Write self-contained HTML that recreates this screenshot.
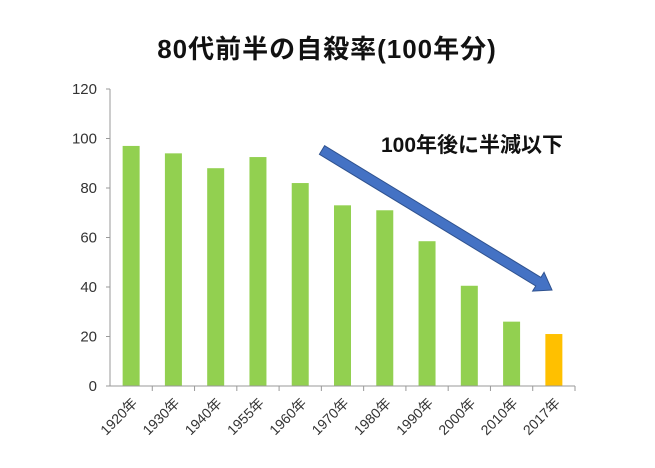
<!DOCTYPE html>
<html><head><meta charset="utf-8"><style>
body{margin:0;background:#fff;}
svg{display:block;font-family:"Liberation Sans","Noto Sans CJK JP",sans-serif;}
</style></head><body>
<svg width="655" height="468" id="c">
<text x="327" y="58" text-anchor="middle" font-size="26" font-weight="bold" fill="#111" letter-spacing="1">80代前半の自殺率(100年分)</text>
<text x="472" y="152" text-anchor="middle" font-size="21" font-weight="bold" fill="#111">100年後に半減以下</text>
</svg>
<script>
const categories=["1920年","1930年","1940年","1955年","1960年","1970年","1980年","1990年","2000年","2010年","2017年"];
const values=[97,94,88,92.5,82,73,71,58.5,40.5,26,21];
const yTicks=[0,20,40,60,80,100,120];
const svg=document.getElementById('c');const NS='http://www.w3.org/2000/svg';
const x0=110,x1=575,y0=386,yTop=89,yMax=120;
const step=(x1-x0)/categories.length;
const yS=v=>y0-(v/yMax)*(y0-yTop);
function mk(t,a){const e=document.createElementNS(NS,t);for(const k in a)e.setAttribute(k,a[k]);svg.appendChild(e);return e;}
yTicks.forEach(t=>{const e=mk('text',{x:x0-13,y:yS(t)+5,'text-anchor':'end','font-size':15,fill:'#333'});e.textContent=t;


const l=mk('line',{x1:x0-4,x2:x0,y1:yS(t),y2:yS(t),stroke:'#999'});

});
categories.forEach((c,i)=>{const cx=x0+step*(i+0.5);const v=values[i];
const r=mk('rect',{x:cx-8.5,y:yS(v),width:17,height:y0-yS(v),fill:i==categories.length-1?'#ffc000':'#92d050'});


const tk=mk('line',{x1:x0+step*(i+1),x2:x0+step*(i+1),y1:y0,y2:y0+5,stroke:'#999'});


const t=mk('text',{x:cx+7,y:y0+18,'text-anchor':'end','font-size':14,fill:'#333',transform:`rotate(-45 ${cx+7} ${y0+18})`});t.textContent=c;

});
const ya=mk('line',{x1:x0,x2:x0,y1:yTop,y2:y0,stroke:'#999'});


const xa=mk('line',{x1:x0,x2:x1,y1:y0,y2:y0,stroke:'#999'});


const ar=mk('g',{});


const ax1=322,ay1=150,ax2=552,ay2=290;const dx=ax2-ax1,dy=ay2-ay1,L=Math.hypot(dx,dy),ux=dx/L,uy=dy/L,px=-uy,py=ux;
const hb=[ax2-ux*16,ay2-uy*16],w=5,hw=11;
const pts=[[ax1+px*w,ay1+py*w],[hb[0]+px*w,hb[1]+py*w],[hb[0]+px*hw,hb[1]+py*hw],[ax2,ay2],[hb[0]-px*hw,hb[1]-py*hw],[hb[0]-px*w,hb[1]-py*w],[ax1-px*w,ay1-py*w]];
const p=document.createElementNS(NS,'polygon');p.setAttribute('points',pts.map(q=>q.join(',')).join(' '));p.setAttribute('fill','#4472c4');p.setAttribute('stroke','#2f528f');ar.appendChild(p);
</script>
</body></html>
